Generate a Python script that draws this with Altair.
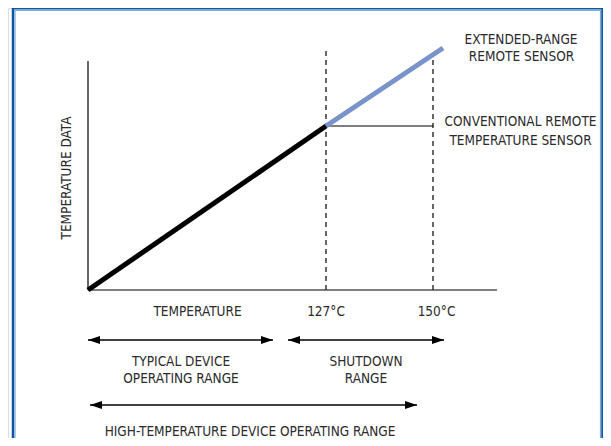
import altair as alt
import pandas as pd

# Chart size (whole view) and diagram-unit domains (axis origin = 0,0)
W, H = 595, 430
XDOM = [-80, 515]
YDOM = [-148, 282]

FONT = "DejaVu Sans Condensed, Liberation Sans Narrow, sans-serif"
TEXT_COLOR = "#2b2b2b"
FS = 13.5

# ---- schematic values (diagram units) ----
# axes
axis_x = [0, 409]          # x-axis extent
axis_y = [0, 229]          # y-axis extent
# transfer curve
curve_x = [0, 238, 355]    # origin, 127°C knee, extended end
curve_y = [0, 164, 242]
clamp_x = [238, 345]       # conventional sensor clamps at knee value
# dashed temperature markers
marker_x = [238, 345]
marker_top = [239, 236]
# range arrows: start x, end x, y
arrow_x1 = [0, 200, 2]
arrow_x2 = [185, 356, 329]
arrow_y = [-50, -50, -115]
# frame
frame_x = [-75, 514.5]
frame_y = [-190, 281.7]

# labels
labels = [
    ("TEMPERATURE", 109.5, -21.7),
    ("127°C", 238, -21.7),
    ("150°C", 348.5, -21.7),
    ("TYPICAL DEVICE", 93, -71.7),
    ("OPERATING RANGE", 93, -89),
    ("SHUTDOWN", 278, -71.7),
    ("RANGE", 278, -89),
    ("HIGH-TEMPERATURE DEVICE OPERATING RANGE", 162, -141.7),
    ("EXTENDED-RANGE", 433, 250.5),
    ("REMOTE SENSOR", 433.5, 233.3),
    ("CONVENTIONAL REMOTE", 432.5, 168.3),
    ("TEMPERATURE SENSOR", 432.5, 149.3),
]
ylabel = ("TEMPERATURE DATA", -21, 112)

xs = alt.Scale(domain=XDOM, nice=False, zero=False)
ys = alt.Scale(domain=YDOM, nice=False, zero=False)


def seg(df, **mk):
    return alt.Chart(df).mark_rule(**mk).encode(
        x=alt.X("x:Q", scale=xs, axis=None),
        y=alt.Y("y:Q", scale=ys, axis=None),
        x2="x2:Q",
        y2="y2:Q",
    )


def box(df, **mk):
    return alt.Chart(df).mark_rect(**mk).encode(
        x=alt.X("x:Q", scale=xs, axis=None), x2="x2:Q",
        y=alt.Y("y:Q", scale=ys, axis=None), y2="y2:Q",
    )


frame = box(pd.DataFrame({"x": [frame_x[0]], "x2": [frame_x[1]], "y": [frame_y[0]], "y2": [frame_y[1]]}),
            fill=None, stroke="#0a55a4", strokeWidth=2.5)
frame_in = box(pd.DataFrame({"x": [frame_x[0] + 2], "x2": [frame_x[1] - 2], "y": [frame_y[0]], "y2": [frame_y[1] - 2]}),
               fill=None, stroke="#7fa6d6", strokeWidth=1.2)

axes_df = pd.DataFrame({
    "x": [axis_x[0], 0], "x2": [axis_x[1], 0],
    "y": [0, axis_y[0]], "y2": [0, axis_y[1]],
})
axes = seg(axes_df, color="black", strokeWidth=1.2)

dash_df = pd.DataFrame({"x": marker_x, "x2": marker_x, "y": [0, 0], "y2": marker_top})
dashes = seg(dash_df, color="#333333", strokeWidth=1.5, strokeDash=[5, 4])

clamp_df = pd.DataFrame({"x": [clamp_x[0]], "x2": [clamp_x[1]], "y": [curve_y[1]], "y2": [curve_y[1]]})
clamp = seg(clamp_df, color="black", strokeWidth=1.2)

black_df = pd.DataFrame({"x": [curve_x[0]], "x2": [curve_x[1]], "y": [curve_y[0]], "y2": [curve_y[1]]})
black = seg(black_df, color="black", strokeWidth=5, strokeCap="butt")

blue_df = pd.DataFrame({"x": [curve_x[1]], "x2": [curve_x[2]], "y": [curve_y[1]], "y2": [curve_y[2]]})
blue = seg(blue_df, color="#7b93cc", strokeWidth=5, strokeCap="butt")

arr_df = pd.DataFrame({"x": arrow_x1, "x2": arrow_x2, "y": arrow_y, "y2": arrow_y})
arr_lines = seg(arr_df, color="black", strokeWidth=1.3)

LEFT = "M0,0L2,-0.65L2,0.65Z"
RIGHT = "M0,0L-2,-0.65L-2,0.65Z"
heads_l = alt.Chart(pd.DataFrame({"x": arrow_x1, "y": arrow_y})).mark_point(
    shape=LEFT, filled=True, color="black", opacity=1, size=144, strokeWidth=0
).encode(x=alt.X("x:Q", scale=xs, axis=None), y=alt.Y("y:Q", scale=ys, axis=None))
heads_r = alt.Chart(pd.DataFrame({"x": arrow_x2, "y": arrow_y})).mark_point(
    shape=RIGHT, filled=True, color="black", opacity=1, size=144, strokeWidth=0
).encode(x=alt.X("x:Q", scale=xs, axis=None), y=alt.Y("y:Q", scale=ys, axis=None))

lab_df = pd.DataFrame(labels, columns=["t", "x", "y"])
texts = alt.Chart(lab_df).mark_text(
    font=FONT, fontSize=FS, color=TEXT_COLOR, align="center", baseline="middle"
).encode(x=alt.X("x:Q", scale=xs, axis=None), y=alt.Y("y:Q", scale=ys, axis=None), text="t:N")

ylab_df = pd.DataFrame({"t": [ylabel[0]], "x": [ylabel[1]], "y": [ylabel[2]]})
ytext = alt.Chart(ylab_df).mark_text(
    font=FONT, fontSize=FS, color=TEXT_COLOR, align="center", baseline="middle", angle=270
).encode(x=alt.X("x:Q", scale=xs, axis=None), y=alt.Y("y:Q", scale=ys, axis=None), text="t:N")

chart = alt.layer(
    frame, frame_in, axes, dashes, clamp, black, blue, arr_lines, heads_l, heads_r, texts, ytext
).properties(
    width=W, height=H, padding=0, autosize=alt.AutoSizeParams(type="none"),
).configure_view(stroke=None).configure(background="white")

chart.save("out.html", embed_options={"renderer": "svg", "actions": False})
